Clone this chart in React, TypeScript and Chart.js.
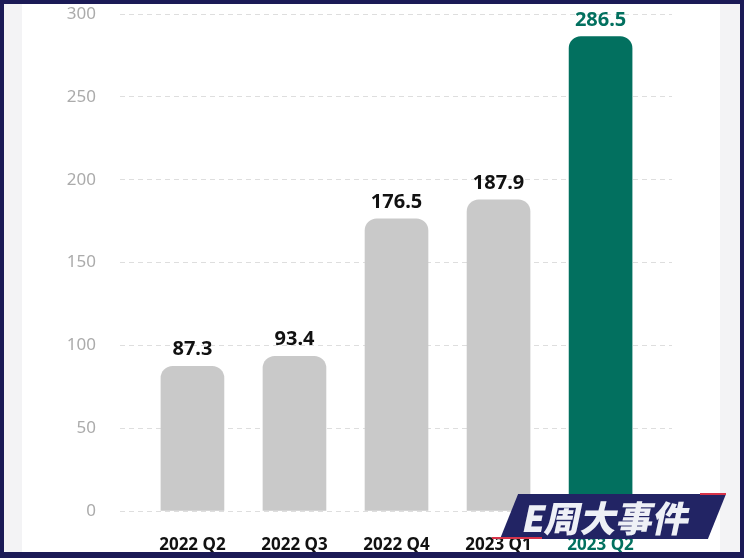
import React, { useEffect, useRef } from "react";
import { Chart, registerables } from "chart.js";

Chart.register(...registerables);

const categories = ["2022 Q2", "2022 Q3", "2022 Q4", "2023 Q1", "2023 Q2"];
const values = [87.3, 93.4, 176.5, 187.9, 286.5];
const barColors = ["#c9c9c9", "#c9c9c9", "#c9c9c9", "#c9c9c9", "#02705f"];
const labelColors = ["#111111", "#111111", "#111111", "#111111", "#02705f"];
const yTicks = [0, 50, 100, 150, 200, 250, 300];

const FONT = "'Noto Sans', 'Liberation Sans', sans-serif";
const SHIFT = 20;

const valueLabelPlugin = {
  id: "valueLabels",
  afterDatasetsDraw(chart: any) {
    const ctx = chart.ctx;
    const meta = chart.getDatasetMeta(0);
    ctx.save();
    ctx.font = `bold 20px ${FONT}`;
    ctx.textAlign = "center";
    ctx.textBaseline = "alphabetic";
    meta.data.forEach((bar: any, i: number) => {
      ctx.fillStyle = labelColors[i];
      ctx.fillText(String(values[i].toFixed(1)), bar.x, bar.y - 11);
    });
    ctx.restore();
  },
};

export default function App() {
  const ref = useRef<HTMLCanvasElement | null>(null);

  useEffect(() => {
    document.body.style.margin = "0";
    const canvas = ref.current;
    if (!canvas) return;
    const chart = new Chart(canvas, {
      type: "bar",
      data: {
        datasets: [
          {
            data: values.map((v, i) => ({ x: i, y: v })),
            backgroundColor: barColors,
            borderRadius: 12,
            borderSkipped: "start",
            barThickness: 63,
          },
        ],
      },
      options: {
        animation: false,
        responsive: false,
        maintainAspectRatio: false,
        layout: { padding: { top: 0, right: 72, left: 0, bottom: 0 } },
        plugins: {
          legend: { display: false },
          tooltip: { enabled: false },
          title: { display: false },
        },
        scales: {
          x: {
            type: "linear",
            offset: false,
            min: -0.71,
            max: 4.7,
            grid: { display: false, drawTicks: false },
            border: { display: false },
            afterBuildTicks: (scale: any) => {
              scale.ticks = categories.map((_, i) => ({ value: i }));
            },
            afterFit: (scale: any) => {
              scale.height = 47;
            },
            ticks: {
              autoSkip: false,
              maxRotation: 0,
              padding: 24,
              font: { family: FONT, size: 17, weight: "bold" },
              color: (ctx: any) => labelColors[ctx.index] ?? "#111",
              callback: (v: any) => categories[Math.round(Number(v))] ?? "",
            },
          },
          y: {
            min: 0,
            max: 300,
            afterBuildTicks: (scale: any) => {
              scale.ticks = yTicks.map((v) => ({ value: v }));
            },
            afterFit: (scale: any) => {
              scale.width = 120;
            },
            grid: {
              color: "#dedede",
              lineWidth: 1,
              drawTicks: false,
            },
            border: { display: false, dash: [5, 4] },
            ticks: {
              padding: 24,
              font: { family: FONT, size: 17 },
              color: "#ababab",
            },
          },
        },
      },
      plugins: [valueLabelPlugin],
    } as any);
    return () => chart.destroy();
  }, []);

  return (
    <div
      style={{
        position: "fixed",
        left: 0,
        top: 0,
        width: 744,
        height: 558,
        background: "#1b1a56",
        overflow: "hidden",
      }}
    >
      <div
        style={{
          position: "absolute",
          left: 4,
          top: 4,
          width: 736,
          height: 548,
          background: "#f3f3f5",
        }}
      />
      <div
        style={{
          position: "absolute",
          left: 22,
          top: 4,
          width: 698,
          height: 548,
          background: "#ffffff",
        }}
      />
      <canvas
        ref={ref}
        width={744}
        height={558 + SHIFT}
        style={{ position: "absolute", left: 0, top: -SHIFT, width: 744, height: 558 + SHIFT }}
      />
      <div
        style={{
          position: "absolute",
          left: 0,
          top: 0,
          width: 744,
          height: 4,
          background: "#1b1a56",
        }}
      />
      <div
        style={{
          position: "absolute",
          left: 0,
          top: 552,
          width: 744,
          height: 6,
          background: "#1b1a56",
        }}
      />
      <div
        style={{
          position: "absolute",
          left: 500,
          top: 494,
          width: 226,
          height: 45,
          background: "#222464",
          clipPath: "polygon(8% 0, 100% 0, 92% 100%, 0 100%)",
        }}
      />
      <div
        style={{
          position: "absolute",
          left: 700,
          top: 493,
          width: 26,
          height: 2,
          background: "#d8344a",
        }}
      />
      <div
        style={{
          position: "absolute",
          left: 492,
          top: 537,
          width: 50,
          height: 2,
          background: "#d8344a",
        }}
      />
      <div
        style={{
          position: "absolute",
          left: 524,
          top: 492,
          width: 190,
          height: 48,
          color: "#eef0f6",
          fontFamily: "'Noto Sans CJK SC', sans-serif",
          fontWeight: 900,
          fontSize: 36,
          lineHeight: "48px",
          letterSpacing: 0,
          whiteSpace: "nowrap",
          transform: "skewX(-12deg)",
        }}
      >
        E周大事件
      </div>
    </div>
  );
}
